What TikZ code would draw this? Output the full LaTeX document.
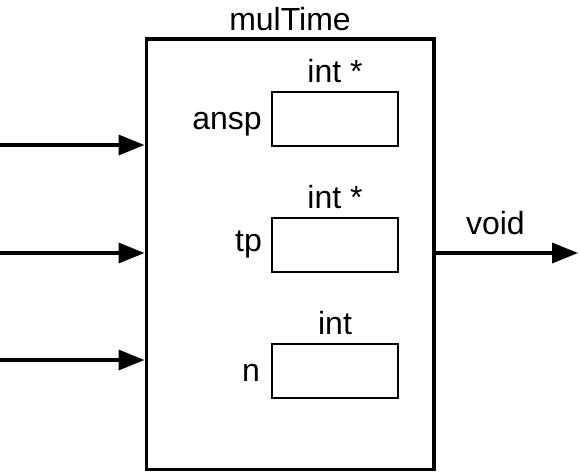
\documentclass[tikz,border=0pt]{standalone}
\usepackage{fontspec}
\setmainfont{Liberation Sans}
\usetikzlibrary{arrows.meta, positioning}

\begin{document}
\begin{tikzpicture}[
    x=1pt, y=-1pt,
    every node/.style={font=\fontsize{32}{38}\selectfont, inner sep=0pt},
    func/.style={draw, line width=3.5pt, minimum width=287.5pt, minimum height=430.5pt},
    param/.style={draw, line width=2pt, minimum width=126pt, minimum height=54pt},
    wire/.style={-{Triangle[length=26pt, width=20pt]}, line width=3.5pt}
]
    \useasboundingbox (0,0) rectangle (580,472);

    % Function box
    \node (main) [func] at (290, 254.25) {};
    \node (title) [above=6pt of main.north] {mulTime};

    % Parameter slots
    \node (p1) [param] at (335, 119) {};
    \node (p2) [param] at (335, 244.5) {};
    \node (p3) [param] at (335, 370.5) {};

    \node (t1) [above=8pt of p1] {int *};
    \node (t2) [above=8pt of p2] {int *};
    \node (t3) [above=8pt of p3] {int};

    \node (n1) [anchor=base east] at ([xshift=-9pt, yshift=-10.3pt]p1.west) {ansp};
    \node (n2) [anchor=base east] at ([xshift=-9pt, yshift=-6.5pt]p2.west) {tp};
    \node (n3) [anchor=base east] at ([xshift=-11pt, yshift=-11.2pt]p3.west) {n};

    % Inputs
    \coordinate (in1) at (0, 145);
    \coordinate (in2) at (0, 253);
    \coordinate (in3) at (0, 360);
    \foreach \i in {1,2,3} {
        \draw[wire] (in\i) -- (in\i -| main.west);
    }

    % Output
    \coordinate (out) at (578, 253);
    \draw[wire] (main.east |- out) -- (out)
        node (ret) [pos=0.42, above=16pt] {void};
\end{tikzpicture}
\end{document}
